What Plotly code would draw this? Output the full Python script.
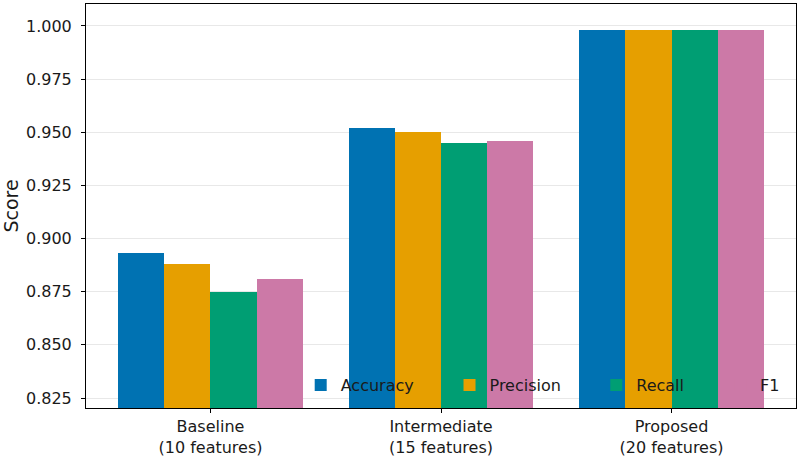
import plotly.graph_objects as go

categories = ["Baseline<br>(10 features)", "Intermediate<br>(15 features)", "Proposed<br>(20 features)"]
series_names = ["Accuracy", "Precision", "Recall", "F1"]
accuracy = [0.893, 0.952, 0.998]
precision = [0.888, 0.950, 0.998]
recall = [0.875, 0.945, 0.998]
f1 = [0.881, 0.946, 0.998]
colors = ["#0072B2", "#E69F00", "#009E73", "#CC79A7"]
y_ticks = [0.825, 0.850, 0.875, 0.900, 0.925, 0.950, 0.975, 1.000]

values = [accuracy, precision, recall, f1]
x_idx = list(range(len(categories)))
offsets = [-0.3, -0.1, 0.1, 0.3]
legend_ids = ["legend", "legend2", "legend3", "legend4"]
legend_x = [0.3024, 0.5120, 0.7187, 0.8931]

FONT = "DejaVu Sans"
TXT = "#1a1a1a"

fig = go.Figure()
for name, vals, col, off, lid in zip(series_names, values, colors, offsets, legend_ids):
    fig.add_trace(go.Bar(
        x=[i + off for i in x_idx], y=vals, name=name, width=0.2, legend=lid,
        marker=dict(color=col, line=dict(color=col, width=0)),
    ))

legends = {}
for lid, lx in zip(legend_ids, legend_x):
    legends[lid] = dict(orientation="h", x=lx, xanchor="left", y=0.0565, yanchor="middle",
                        bgcolor="rgba(0,0,0,0)", borderwidth=0,
                        font=dict(family=FONT, size=16, color=TXT))

fig.update_layout(
    width=800, height=460,
    margin=dict(l=86, r=3, t=3, b=50),
    plot_bgcolor="white", paper_bgcolor="white",
    font=dict(family=FONT, size=16, color=TXT), barmode="overlay", bargap=0,
    showlegend=True,
    xaxis=dict(range=[-0.54, 2.54], tickmode="array", tickvals=x_idx, ticktext=categories,
               showgrid=False, showline=True, linecolor="black", linewidth=1, mirror=True,
               ticks="outside", ticklen=4, tickcolor="black", zeroline=False),
    yaxis=dict(range=[0.8203, 1.0103], tickmode="array", tickvals=y_ticks,
               ticktext=[f"{v:.3f}" for v in y_ticks],
               showgrid=True, gridcolor="#e8e8e8", gridwidth=1,
               showline=True, linecolor="black", linewidth=1, mirror=True,
               ticks="outside", ticklen=4, tickcolor="black", zeroline=False,
               ticklabelstandoff=6,
               title=dict(text="Score", standoff=9)),
    **legends,
)
fig.write_html("out.html")
